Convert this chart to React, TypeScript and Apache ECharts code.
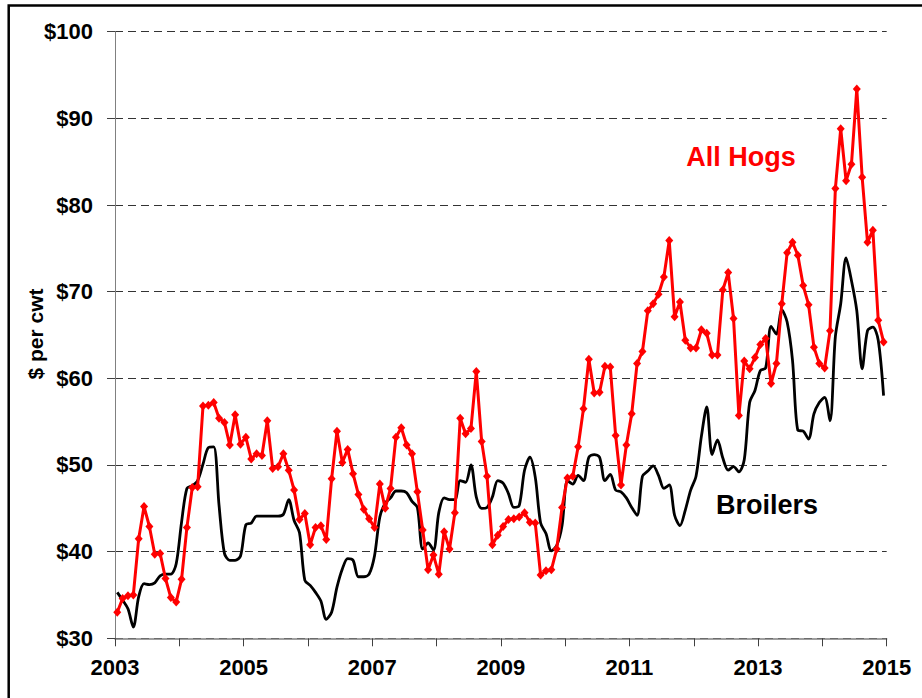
import React, { useEffect, useRef } from "react";
import * as echarts from "echarts";

const START_YEAR = 2003;
const END_YEAR = 2015;
const MONTH_OFFSET = 0.42; // position of each monthly point within its month

const hogs2003 = [33.0, 34.6, 34.9, 35.0, 41.5, 45.2, 42.9, 39.7, 39.8, 36.9, 34.7, 34.2];
const hogs2004 = [36.8, 42.8, 47.4, 47.5, 56.8, 56.9, 57.2, 55.4, 54.9, 52.3, 55.8, 52.4];
const hogs2005 = [53.2, 50.7, 51.3, 51.1, 55.1, 49.6, 49.8, 51.3, 49.4, 47.1, 43.7, 44.4];
const hogs2006 = [40.8, 42.8, 43.0, 41.4, 48.4, 53.9, 50.3, 51.8, 49.0, 46.6, 44.9, 43.8];
const hogs2007 = [42.8, 47.8, 45.0, 47.3, 53.2, 54.3, 52.3, 51.3, 46.9, 42.5, 37.9, 39.6];
const hogs2008 = [37.4, 42.3, 40.3, 44.5, 55.4, 53.6, 54.2, 60.8, 52.7, 48.7, 40.8, 41.9];
const hogs2009 = [42.9, 43.7, 43.8, 44.0, 44.5, 43.4, 43.3, 37.3, 37.8, 37.9, 40.3, 45.1];
const hogs2010 = [48.5, 48.7, 52.1, 56.5, 62.2, 58.3, 58.4, 61.4, 61.3, 53.4, 47.7, 52.3];
const hogs2011 = [55.9, 61.7, 63.1, 67.8, 68.6, 69.7, 71.7, 75.9, 67.1, 68.8, 64.4, 63.5];
const hogs2012 = [63.5, 65.6, 65.2, 62.7, 62.7, 70.2, 72.2, 66.9, 55.7, 62.0, 61.1, 62.4];
const hogs2013 = [63.9, 64.6, 59.4, 61.7, 68.6, 74.5, 75.7, 74.2, 70.7, 68.5, 63.6, 61.7];
const hogs2014 = [61.2, 65.5, 81.9, 88.8, 82.8, 84.7, 93.4, 83.2, 75.7, 77.1, 66.7, 64.2];

const broilers2003 = [35.3, 34.4, 33.4, 31.3, 34.8, 36.3, 36.2, 36.4, 37.2, 37.4, 37.4, 38.6];
const broilers2004 = [43.4, 47.3, 47.6, 48.2, 50.1, 52.0, 52.1, 45.3, 39.8, 39.0, 39.0, 39.5];
const broilers2005 = [43.1, 43.3, 44.1, 44.1, 44.1, 44.1, 44.1, 44.3, 46.0, 43.6, 42.2, 36.7];
const broilers2006 = [36.1, 35.3, 34.3, 32.2, 33.0, 35.9, 38.0, 39.2, 39.0, 37.1, 37.1, 37.4];
const broilers2007 = [39.5, 44.0, 45.6, 46.2, 47.0, 47.0, 46.8, 45.8, 45.1, 40.3, 41.0, 40.2];
const broilers2008 = [44.5, 46.2, 46.0, 46.0, 48.2, 48.0, 50.0, 46.3, 45.0, 45.1, 46.3, 48.2];
const broilers2009 = [47.9, 46.7, 45.1, 45.3, 49.4, 50.9, 48.6, 43.3, 42.1, 40.1, 40.7, 43.0];
const broilers2010 = [48.2, 47.8, 48.8, 48.2, 50.9, 51.2, 50.9, 48.2, 48.9, 47.1, 46.9, 46.2];
const broilers2011 = [45.1, 44.2, 48.7, 49.3, 49.9, 48.8, 47.3, 47.7, 44.2, 43.0, 44.8, 47.1];
const broilers2012 = [48.7, 53.3, 56.7, 51.2, 52.9, 50.8, 49.4, 49.8, 49.2, 50.6, 57.2, 58.6];
const broilers2013 = [60.9, 61.2, 66.0, 65.1, 67.9, 66.5, 62.1, 54.0, 53.9, 53.0, 55.9, 57.2];
const broilers2014 = [57.8, 55.1, 64.8, 68.6, 73.9, 71.3, 67.8, 61.1, 65.5, 65.9, 64.4, 58.0];

const hogsValues = [
  ...hogs2003, ...hogs2004, ...hogs2005, ...hogs2006, ...hogs2007, ...hogs2008,
  ...hogs2009, ...hogs2010, ...hogs2011, ...hogs2012, ...hogs2013, ...hogs2014,
];
const broilerValues = [
  ...broilers2003, ...broilers2004, ...broilers2005, ...broilers2006, ...broilers2007, ...broilers2008,
  ...broilers2009, ...broilers2010, ...broilers2011, ...broilers2012, ...broilers2013, ...broilers2014,
];

const yTicksMin = 30;
const yTicksMax = 100;
const yTickStep = 10;

const seriesNames = ["All Hogs", "Broilers"];
const yAxisTitle = "$ per cwt";

const toPoints = (vals: number[]) =>
  vals.map((v, i) => [START_YEAR + (i + MONTH_OFFSET) / 12, v]);

const FONT = "'Liberation Sans', Arial, Helvetica, sans-serif";

export default function App() {
  const ref = useRef<HTMLDivElement>(null);
  useEffect(() => {
    if (!ref.current) return;
    const chart = echarts.init(ref.current, null, { renderer: "svg" });
    chart.setOption({
      animation: false,
      backgroundColor: "#ffffff",
      grid: { left: 115, right: 35.3, top: 31.7, bottom: 59.7, containLabel: false },
      xAxis: {
        type: "value",
        min: START_YEAR,
        max: END_YEAR,
        interval: 1,
        axisLine: { show: true, lineStyle: { color: "#808080", width: 1.5 } },
        axisTick: { show: true, length: 8, lineStyle: { color: "#404040", width: 1 } },
        axisLabel: {
          formatter: (v: number) => ((v - START_YEAR) % 2 === 0 ? String(v) : ""),
          fontSize: 22,
          fontWeight: "bold",
          fontFamily: FONT,
          color: "#000",
          margin: 18,
          showMaxLabel: true,
          showMinLabel: true,
        },
        splitLine: { show: false },
      },
      yAxis: {
        type: "value",
        min: yTicksMin,
        max: yTicksMax,
        interval: yTickStep,
        axisLine: { show: true, lineStyle: { color: "#808080", width: 1 } },
        axisTick: { show: true, length: 8, lineStyle: { color: "#404040", width: 1 } },
        axisLabel: {
          formatter: (v: number) => "$" + v,
          fontSize: 22,
          fontWeight: "bold",
          fontFamily: FONT,
          color: "#000",
          margin: 22,
        },
        splitLine: { show: true, lineStyle: { type: [8, 5], color: "#333333", width: 1 } },
      },
      series: [
        {
          name: seriesNames[1],
          type: "line",
          data: toPoints(broilerValues),
          showSymbol: false,
          symbol: "none",
          smooth: 0.3,
          lineStyle: { color: "#000000", width: 2.8 },
          z: 2,
        },
        {
          name: seriesNames[0],
          type: "line",
          data: toPoints(hogsValues),
          symbol: "diamond",
          symbolSize: [8, 9],
          itemStyle: { color: "#ff0000" },
          lineStyle: { color: "#ff0000", width: 3 },
          z: 3,
        },
      ],
      graphic: [
        {
          type: "rect",
          shape: { x: 8.7, y: 5.5, width: 1200, height: 1200 },
          style: { fill: "none", stroke: "#000", lineWidth: 2.5 },
          silent: true,
          z: 0,
        },
        {
          type: "text",
          x: 35,
          y: 334,
          rotation: Math.PI / 2,
          style: {
            text: yAxisTitle,
            font: `bold 21px ${FONT}`,
            fill: "#000",
            align: "center",
            verticalAlign: "middle",
          },
        },
        {
          type: "text",
          x: 741,
          y: 157,
          style: {
            text: seriesNames[0],
            font: `bold 27px ${FONT}`,
            fill: "#ff0000",
            align: "center",
            verticalAlign: "middle",
          },
        },
        {
          type: "text",
          x: 767,
          y: 505,
          style: {
            text: seriesNames[1],
            font: `bold 27px ${FONT}`,
            fill: "#000",
            align: "center",
            verticalAlign: "middle",
          },
        },
      ],
    });
    return () => chart.dispose();
  }, []);
  return (
    <div
      ref={ref}
      style={{ position: "absolute", left: 0, top: 0, width: 922, height: 698 }}
    />
  );
}
